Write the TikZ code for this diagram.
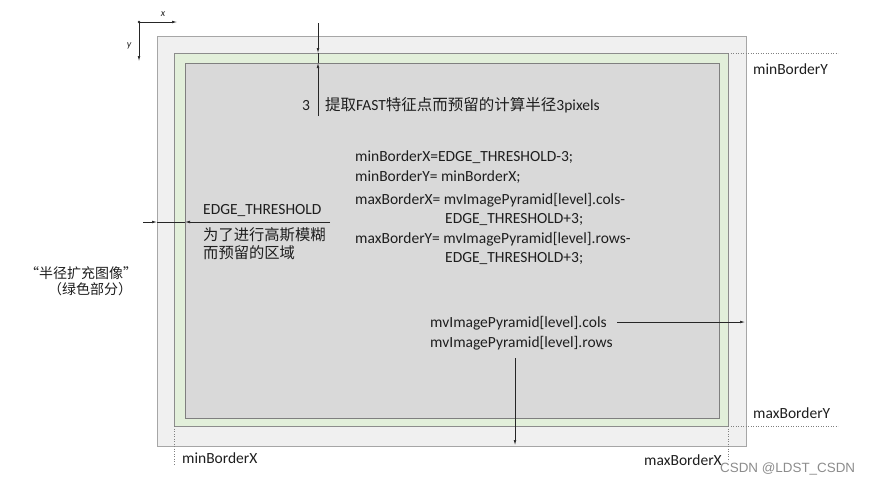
\documentclass[tikz,border=0pt]{standalone}
\usepackage{fontspec}
\setmainfont{Carlito}
\newfontfamily\cjk{Noto Sans CJK SC}
\newfontfamily\cjkfw[RawFeature=+fwid]{Noto Sans CJK SC}
\newfontfamily\wmfont{Liberation Sans}
\usetikzlibrary{arrows.meta}
\definecolor{outerfill}{HTML}{F0F0F0}
\definecolor{outerline}{HTML}{A6A6A6}
\definecolor{greenfill}{HTML}{E2EFDA}
\definecolor{greenline}{HTML}{8C8C8C}
\definecolor{innerfill}{HTML}{D9D9D9}
\definecolor{innerline}{HTML}{7F7F7F}
\definecolor{txt}{HTML}{1E1E1E}
\definecolor{arr}{HTML}{262626}
\tikzset{
  lbl/.style={inner sep=0pt, anchor=base west, text=txt, font=\fontsize{15.5}{18}\selectfont},
  dim/.style={draw=arr, line width=0.6pt, -{Latex[length=5pt,width=2.6pt]}},
  plain/.style={draw=arr, line width=0.6pt},
  guide/.style={draw=gray, line width=0.5pt, dotted},
  axlbl/.style={inner sep=0pt, text=txt, font=\rmfamily\itshape\fontsize{10}{11}\selectfont},
}
\begin{document}
\begin{tikzpicture}[x=1pt,y=-1pt]
\useasboundingbox (0,0) rectangle (869,483);
% rectangles
\draw[fill=outerfill, draw=outerline, line width=0.8pt] (157,36) rectangle (746,446);
\draw[fill=greenfill, draw=greenline, line width=0.8pt] (174,53) rectangle (728,426);
\draw[fill=innerfill, draw=innerline, line width=0.8pt] (185,63) rectangle (719,418);
% axes
\coordinate (o) at (139,22);
\coordinate (xe) at (177,22);
\coordinate (ye) at (139,61);
\fill[arr] (o) circle (1.3pt);
\draw[dim] (o) -- (xe);
\draw[dim] (o) -- (ye);
\node[axlbl] (xl) at (163,14) {x};
\node[axlbl] (yl) at (129,46) {y};
% guides
\coordinate (gy1a) at (728,53); \coordinate (gy1b) at (838,53);
\coordinate (gy2a) at (728,426); \coordinate (gy2b) at (838,426);
\coordinate (gx2a) at (728,426); \coordinate (gx2b) at (728,461);
\coordinate (gx1a) at (174,426); \coordinate (gx1b) at (174,465);
\draw[guide] (gy1a) -- (gy1b);
\draw[guide] (gy2a) -- (gy2b);
\draw[guide] (gx2a) -- (gx2b);
\draw[guide] (gx1a) -- (gx1b);
% top dimension
\coordinate (t0) at (318,23); \coordinate (t1) at (318,53);
\coordinate (t2) at (318,63); \coordinate (t3) at (318,116);
\draw[dim] (t0) -- (t1);
\draw[plain] (t1) -- (t2);
\draw[dim] (t3) -- (t2);
% left dimension
\coordinate (l0) at (143,222); \coordinate (l1) at (157,222);
\coordinate (l2) at (185,222); \coordinate (l3) at (330,222);
\draw[dim] (l0) -- (l1);
\draw[plain] (l1) -- (l2);
\draw[dim] (l3) -- (l2);
% texts
\node[lbl, anchor=base] (three) at (306,110) {3};
\node[lbl] (fast) at (325,110) {{\cjk 提取}FAST{\cjk 特征点而预留的计算半径}3pixels};
\node[lbl] (c1) at (355,161) {minBorderX=EDGE\_THRESHOLD-3;};
\node[lbl] (c2) at (355,181) {minBorderY= minBorderX;};
\node[lbl] (c3) at (355,204) {maxBorderX= mvImagePyramid[level].cols-};
\node[lbl] (c4) at (445,223) {EDGE\_THRESHOLD+3;};
\node[lbl] (c5) at (355,243) {maxBorderY= mvImagePyramid[level].rows-};
\node[lbl] (c6) at (445,262) {EDGE\_THRESHOLD+3;};
\node[lbl] (edge) at (203,214) {EDGE\_THRESHOLD};
\node[lbl, font=\cjk\fontsize{15.3}{18}\selectfont] (gs1) at (203,240) {为了进行高斯模糊};
\node[lbl, font=\cjk\fontsize{15.3}{18}\selectfont] (gs2) at (203,258) {而预留的区域};
\node[lbl, anchor=base, font=\cjkfw\fontsize{14}{17}\selectfont] (bj1) at (81,278) {“半径扩充图像”};
\node[lbl, anchor=base, font=\cjk\fontsize{14}{17}\selectfont] (bj2) at (90,294) {（绿色部分）};
\node[lbl] (cols) at (430,327) {mvImagePyramid[level].cols};
\node[lbl] (rows) at (430,347) {mvImagePyramid[level].rows};
\node[lbl] (minY) at (753,74) {minBorderY};
\node[lbl] (maxY) at (753,418) {maxBorderY};
\node[lbl] (maxX) at (644,465) {maxBorderX};
\node[lbl] (minX) at (182,463) {minBorderX};
\node[inner sep=0pt, anchor=base west, text=black!45, font=\wmfont\fontsize{13.4}{16}\selectfont] (wm) at (720,472) {CSDN @LDST\_CSDN};
% pointer arrows
\coordinate (ce) at (745,322);
\coordinate (cs) at (617,322);
\coordinate (rs) at (515,358);
\coordinate (re) at (515,445);
\draw[dim] (cs) -- (ce);
\draw[dim] (rs) -- (re);
\end{tikzpicture}
\end{document}
